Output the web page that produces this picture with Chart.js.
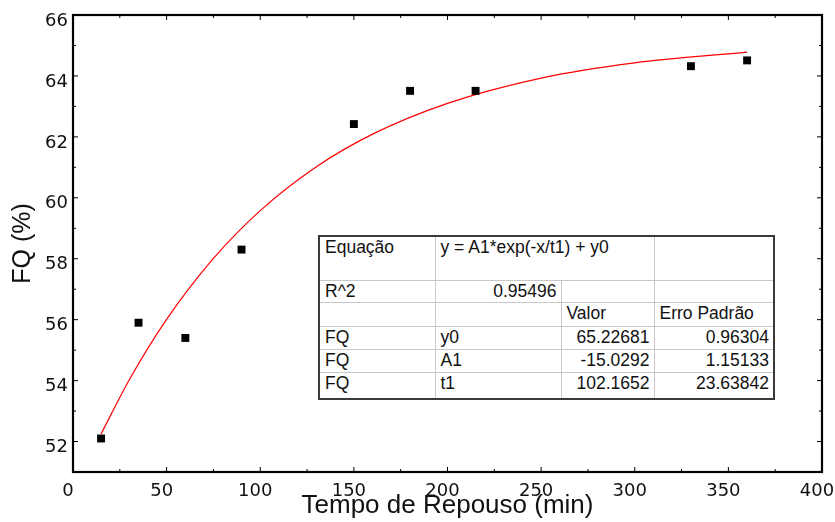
<!DOCTYPE html>
<html>
<head>
<meta charset="utf-8">
<script src="https://cdn.jsdelivr.net/npm/chart.js@4.4.0/dist/chart.umd.min.js"></script>
<style>
  body { margin: 0; background: #fff; }
  #wrap { position: relative; width: 835px; height: 522px; }
  #fit {
    position: absolute; left: 318px; top: 235px;
    border-collapse: collapse; table-layout: fixed;
    background: #fff; border: 2px solid #3a3a3a;
    font-family: "Liberation Sans", Arial, sans-serif; font-size: 17.5px; color: #111;
  }
  #fit td {
    border: 1px solid #c8c8c8; vertical-align: top;
    padding: 1px 4px 0 5px; line-height: 19px; white-space: nowrap; overflow: hidden;
  }
  #fit td.r { text-align: right; }
</style>
</head>
<body>
<div id="wrap">
  <canvas id="fqChart" width="835" height="522"></canvas>
  <table id="fit">
    <colgroup><col style="width:116px"><col style="width:126px"><col style="width:93px"><col style="width:120px"></colgroup>
    <tr style="height:44px"><td>Equação</td><td colspan="2">y = A1*exp(-x/t1) + y0</td><td></td></tr>
    <tr style="height:22px"><td>R^2</td><td class="r">0.95496</td><td></td><td></td></tr>
    <tr style="height:24px"><td></td><td></td><td>Valor</td><td>Erro Padrão</td></tr>
    <tr style="height:23px"><td>FQ</td><td>y0</td><td class="r">65.22681</td><td class="r">0.96304</td></tr>
    <tr style="height:23px"><td>FQ</td><td>A1</td><td class="r">-15.0292</td><td class="r">1.15133</td></tr>
    <tr style="height:27px"><td>FQ</td><td>t1</td><td class="r">102.1652</td><td class="r">23.63842</td></tr>
  </table>
</div>
<script>
// measured points
const tempo = [15, 35, 60, 90, 150, 180, 215, 330, 360];
const fq = [52.1, 55.9, 55.4, 58.3, 62.42, 63.51, 63.51, 64.32, 64.51];

// fitted curve
const curveX = [15, 30, 50, 75, 100, 130, 160, 200, 250, 300, 360];
const curveY = [52.25, 54.02, 56.01, 58.01, 59.58, 61.02, 62.09, 63.10, 63.93, 64.43, 64.78];

const xTicks = [0, 50, 100, 150, 200, 250, 300, 350, 400];
const yTicks = [52, 54, 56, 58, 60, 62, 64, 66];
const xMinor = [25, 75, 125, 175, 225, 275, 325, 375];
const yMinor = [51, 53, 55, 57, 59, 61, 63, 65];

const tickFont = { family: 'DejaVu Sans', size: 18 };
const titleFont = { family: 'Liberation Sans', size: 26, lineHeight: 1 };

// box round the plot with inward tick marks
const framePlugin = {
    id: 'frame',
    afterDatasetsDraw(chart) {
        const { ctx, chartArea: a, scales: { x, y } } = chart;
        ctx.save();
        ctx.strokeStyle = '#000';
        const markX = (vals, len) => {
            vals.forEach(v => {
                const px = x.getPixelForValue(v);
                ctx.beginPath();
                ctx.moveTo(px, a.bottom); ctx.lineTo(px, a.bottom - len);
                ctx.moveTo(px, a.top); ctx.lineTo(px, a.top + len);
                ctx.stroke();
            });
        };
        const markY = (vals, len) => {
            vals.forEach(v => {
                const py = y.getPixelForValue(v);
                ctx.beginPath();
                ctx.moveTo(a.left, py); ctx.lineTo(a.left + len, py);
                ctx.moveTo(a.right, py); ctx.lineTo(a.right - len, py);
                ctx.stroke();
            });
        };
        ctx.lineWidth = 1;
        markX(xTicks, 5); markX(xMinor, 3);
        markY(yTicks, 5); markY(yMinor, 3);
        ctx.lineWidth = 2.2;
        ctx.strokeRect(a.left, a.top, a.right - a.left, a.bottom - a.top);
        ctx.restore();
    }
};

new Chart(document.getElementById('fqChart'), {
    type: 'scatter',
    data: {
        datasets: [{
            label: 'FQ',
            data: tempo.map((t, i) => ({ x: t, y: fq[i] })),
            pointStyle: 'rect',
            pointRadius: 5.6,
            pointBorderWidth: 0,
            backgroundColor: '#000',
            borderColor: '#000'
        }, {
            label: 'ajuste',
            data: curveX.map((t, i) => ({ x: t, y: curveY[i] })),
            showLine: true,
            pointRadius: 0,
            borderColor: '#ff0000',
            borderWidth: 1.2,
            cubicInterpolationMode: 'monotone'
        }]
    },
    options: {
        responsive: false,
        animation: false,
        layout: { padding: { top: 15, right: 13, left: 0, bottom: 0 } },
        plugins: {
            legend: { display: false },
            tooltip: { enabled: false }
        },
        scales: {
            x: {
                type: 'linear',
                min: 0,
                max: 400,
                afterBuildTicks: s => { s.ticks = xTicks.map(v => ({ value: v })); },
                afterFit: s => { s.height = 50; s.paddingLeft = 0; s.paddingRight = 0; },
                grid: { display: false, drawTicks: false },
                border: { display: false },
                ticks: { font: tickFont, color: '#111', padding: 9, labelOffset: -5, maxRotation: 0 },
                title: {
                    display: true,
                    text: 'Tempo de Repouso (min)',
                    font: titleFont,
                    color: '#111',
                    padding: { top: 0, bottom: 3 }
                }
            },
            y: {
                type: 'linear',
                min: 51,
                max: 66,
                afterBuildTicks: s => { s.ticks = yTicks.map(v => ({ value: v })); },
                afterFit: s => { s.width = 73; s.paddingTop = 0; s.paddingBottom = 0; },
                grid: { display: false, drawTicks: false },
                border: { display: false },
                ticks: { font: tickFont, color: '#111', padding: 5, labelOffset: 6 },
                title: {
                    display: true,
                    text: 'FQ (%)',
                    font: { family: 'Liberation Sans', size: 25, lineHeight: 1 },
                    color: '#111',
                    padding: { top: 11, bottom: 0 }
                }
            }
        }
    },
    plugins: [framePlugin]
});
</script>
</body>
</html>
